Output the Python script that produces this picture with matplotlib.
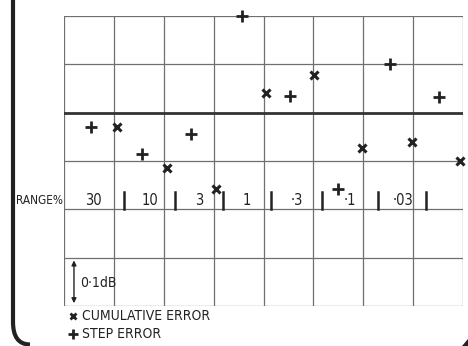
#import libraries
import matplotlib.pyplot as plt
from matplotlib.path import Path
from matplotlib.patches import PathPatch
from matplotlib import font_manager as fm

#data (x in grid columns, y in dB)
step_x = [0.55, 1.57, 2.55, 3.56, 4.53, 5.50, 6.54, 7.52]
step_err = [-0.030, -0.085, -0.044, 0.200, 0.034, -0.158, 0.100, 0.033]
cum_x = [1.06, 2.07, 3.05, 4.05, 5.02, 5.98, 6.98, 7.94]
cum_err = [-0.029, -0.115, -0.157, 0.041, 0.078, -0.074, -0.060, -0.100]
range_labels = ['30', '10', '3', '1', '·3', '·1', '·03']
range_pos = [0.58, 1.72, 2.71, 3.67, 4.67, 5.73, 6.80]
sep_pos = [1.20, 2.23, 3.19, 4.16, 5.17, 6.30, 7.26]

W, H = 468, 346
ink = '#222222'
#regular condensed face if there is one
cond = [f.fname for f in fm.fontManager.ttflist
        if ('Condensed' in f.fname or 'Narrow' in f.fname)
        and 'Bold' not in f.fname and 'Oblique' not in f.fname and 'Italic' not in f.fname]
if cond:
    fp = fm.FontProperties(fname=sorted(cond)[0])
else:
    fp = fm.FontProperties(family='DejaVu Sans')

def txt(x, y, s, size, ha='center'):
    p = fp.copy()
    p.set_size(size)
    ax.text(x, y, s, ha=ha, va='center', fontproperties=p, color=ink)

fig = plt.figure(figsize=(W/100, H/100), dpi=100)
fig.patch.set_facecolor('white')
ax = fig.add_axes([64/W, 1-306/H, 399/W, 290/H])
ax.set_xlim(0, 8)
ax.set_ylim(-0.4, 0.2)

#grid
for x in range(0, 9):
    ax.axvline(x, color='#6f6f6f', lw=0.9)
for y in [-0.4, -0.3, -0.2, -0.1, 0.1, 0.2]:
    ax.axhline(y, color='#6f6f6f', lw=0.9)
ax.axhline(0, color='#333333', lw=2)
ax.set_xticks([])
ax.set_yticks([])
for s in ax.spines.values():
    s.set_visible(False)

#markers
ax.plot(cum_x, cum_err, 'x', color=ink, ms=6, mew=2.2, clip_on=False, zorder=5)
ax.plot(step_x, step_err, '+', color=ink, ms=8, mew=2, clip_on=False, zorder=5)

#range row
txt(-0.03, -0.181, 'RANGE%', 8.5, ha='right')
for p, lab in zip(range_pos, range_labels):
    txt(p, -0.181, lab, 10.5)
for p in sep_pos:
    ax.plot([p, p], [-0.165, -0.2], color=ink, lw=1.8)

#0.1dB scale arrow
ax.annotate('', xy=(0.2, -0.3), xytext=(0.2, -0.4),
            arrowprops=dict(arrowstyle='<|-|>', color=ink, lw=1, mutation_scale=7))
txt(0.32, -0.352, '0·1dB', 10, ha='left')

#legend under the grid
ax.plot([0.18], [-0.421], 'x', color=ink, ms=5, mew=2, clip_on=False)
ax.plot([0.18], [-0.458], '+', color=ink, ms=7, mew=2, clip_on=False)
txt(0.36, -0.421, 'CUMULATIVE ERROR', 10, ha='left')
txt(0.36, -0.458, 'STEP ERROR', 10, ha='left')

#page frame (left edge with rounded corner)
def fpt(x, y):
    return (x/W, 1-y/H)
verts = [fpt(13, 0), fpt(13, 322), fpt(13, 344.5), fpt(30, 344.5)]
codes = [Path.MOVETO, Path.LINETO, Path.CURVE3, Path.CURVE3]
frame = PathPatch(Path(verts, codes), transform=fig.transFigure, fill=False, lw=3, color='#222222')
fig.add_artist(frame)
corner = PathPatch(Path([fpt(468, 339), fpt(462, 346), fpt(468, 346)]), transform=fig.transFigure,
                   color='#222222', lw=0)
fig.add_artist(corner)

fig.savefig('out.png', dpi=100, facecolor='white')
